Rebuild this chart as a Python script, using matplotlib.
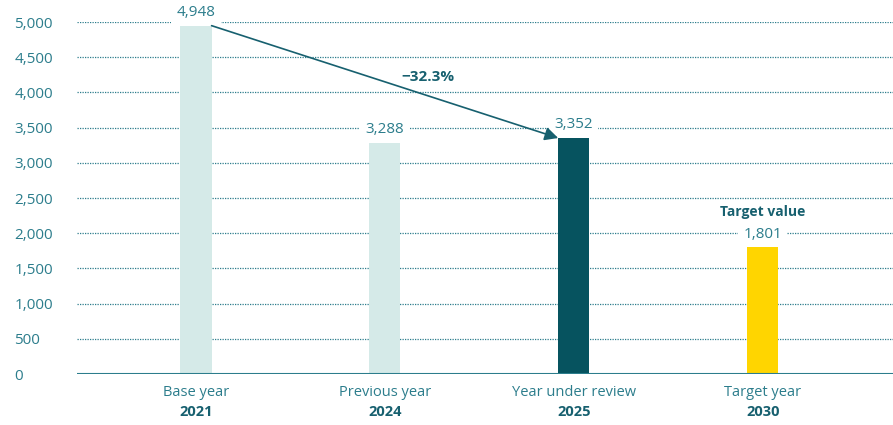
import matplotlib.pyplot as plt
from matplotlib.transforms import blended_transform_factory

categories = ["Base year", "Previous year", "Year under review", "Target year"]
years = ["2021", "2024", "2025", "2030"]
values = [4948, 3288, 3352, 1801]
value_labels = ["4,948", "3,288", "3,352", "1,801"]
change_label = "\u221232.3%"
y_ticks = [0, 500, 1000, 1500, 2000, 2500, 3000, 3500, 4000, 4500, 5000]

bar_colors = ["#d5eae8", "#d5eae8", "#06535f", "#ffd500"]
teal = "#2c7d8c"
dark_teal = "#17606f"

plt.rcParams['font.family'] = ['Open Sans', 'DejaVu Sans']

fig = plt.figure(figsize=(8.93, 4.25), dpi=100)
ax = fig.add_axes([77 / 893, 51 / 425, 1 - 77 / 893, (374 - 22) / 425])

x = list(range(len(values)))
bars = ax.bar(x, values, width=0.165, color=bar_colors, zorder=3)

ax.set_xlim(-0.63, 3.69)
ax.set_ylim(0, 5000)

# dotted gridlines, solid baseline
for t in y_ticks[1:]:
    ax.axhline(t, color=teal, lw=0.9, ls=(0, (1, 1)), zorder=1)
ax.axhline(0, color=teal, lw=1.5, zorder=4)

for s in ax.spines.values():
    s.set_visible(False)

ax.set_yticks(y_ticks)
ax.set_yticklabels([f"{t:,}" for t in y_ticks])
ax.tick_params(axis='y', length=0, pad=45, labelsize=11, labelcolor=teal)
for lbl in ax.get_yticklabels():
    lbl.set_horizontalalignment('left')

ax.set_xticks(x)
ax.set_xticklabels([])
ax.tick_params(axis='x', length=0)
trans = blended_transform_factory(ax.transData, fig.transFigure)
for xi, cat, yr in zip(x, categories, years):
    ax.text(xi, 1 - 392 / 425, cat, transform=trans, ha='center', va='center',
            fontsize=10.5, color=teal)
    ax.text(xi, 1 - 412 / 425, yr, transform=trans, ha='center', va='center',
            fontsize=10.5, fontweight='bold', color=dark_teal)

# value labels with white boxes over the grid
for xi, v, lab in zip(x, values, value_labels):
    ax.annotate(lab, (xi, v), xytext=(0, 9.5), textcoords='offset points',
                ha='center', va='center', fontsize=11, color=teal,
                bbox=dict(boxstyle='square,pad=0.35', fc='white', ec='none'),
                zorder=5, annotation_clip=False)

ax.annotate("Target value", (3, values[3]), xytext=(0, 25.5), textcoords='offset points',
            ha='center', va='center', fontsize=10, fontweight='bold', color=dark_teal,
            bbox=dict(boxstyle='square,pad=0.2', fc='white', ec='none'), zorder=5)

# change arrow from base year to year under review
half_w = 0.165 / 2
ax.annotate("", xy=(2 - half_w, values[2]), xytext=(0 + half_w, values[0]),
            arrowprops=dict(arrowstyle='-|>', color=dark_teal, lw=1.2,
                            mutation_scale=20, shrinkA=0, shrinkB=0), zorder=6)
ax.text(1.23, 4220, change_label, ha='center', va='center', fontsize=11,
        fontweight='bold', color=dark_teal, zorder=6)

fig.savefig("out.png", dpi=100)
